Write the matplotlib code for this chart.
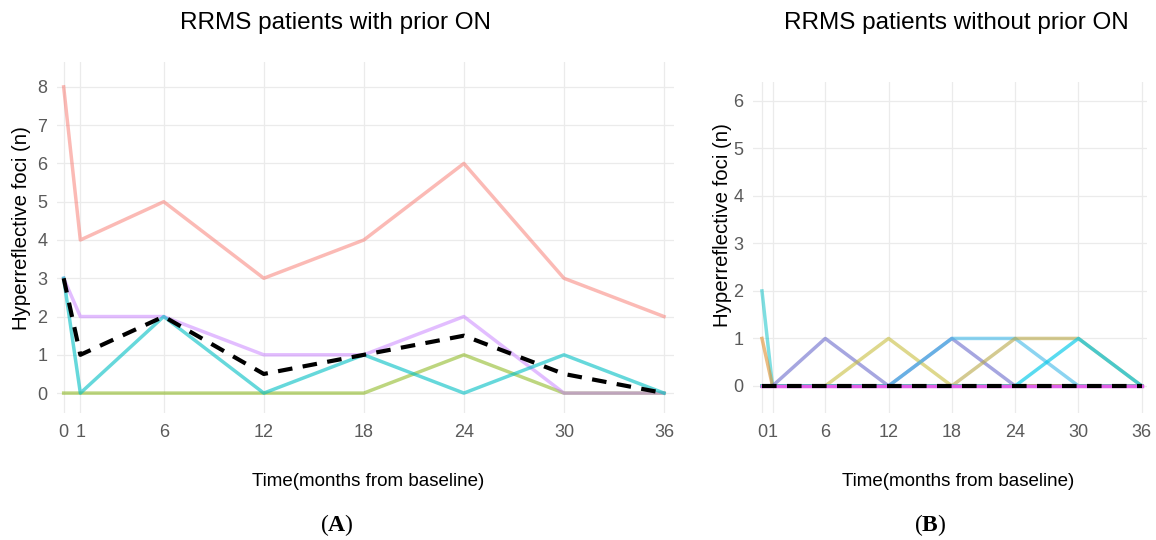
import matplotlib
matplotlib.use('Agg')
import matplotlib.pyplot as plt

plt.rcParams['font.family'] = ['Liberation Sans', 'DejaVu Sans']
plt.rcParams['mathtext.fontset'] = 'custom'
plt.rcParams['mathtext.bf'] = 'Liberation Serif:bold'
plt.rcParams['mathtext.rm'] = 'Liberation Serif'

# time points (months from baseline)
months = [0, 1, 6, 12, 18, 24, 30, 36]

# panel A: RRMS patients with prior ON
a_pink = [8, 4, 5, 3, 4, 6, 3, 2]
a_green = [0, 0, 0, 0, 0, 1, 0, 0]
a_cyan = [3, 0, 2, 0, 1, 0, 1, 0]
a_purple = [3, 2, 2, 1, 1, 2, 0, 0]
a_median = [3, 1, 2, 0.5, 1, 1.5, 0.5, 0]

# panel B: RRMS patients without prior ON
b_p1 = [2, 0, 0, 0, 0, 0, 0, 0]
b_p2 = [1, 0, 0, 0, 0, 0, 0, 0]
b_p3 = [0, 0, 1, 0, 1, 0, 0, 0]
b_p4 = [0, 0, 0, 1, 0, 0, 0, 0]
b_p5 = [0, 0, 0, 0, 1, 1, 0, 0]
b_p6 = [0, 0, 0, 0, 0, 1, 1, 0]
b_p7 = [0, 0, 0, 0, 0, 0, 1, 0]
b_p8 = [0, 0, 0, 0, 0, 0, 0, 0]
b_median = [0, 0, 0, 0, 0, 0, 0, 0]

W, H = 1156, 540
fig = plt.figure(figsize=(W / 100, H / 100), dpi=100)


def px_axes(x0, y0, x1, y1):
    return fig.add_axes([x0 / W, 1 - y1 / H, (x1 - x0) / W, (y1 - y0) / H])


def style_ax(ax, yticks):
    ax.set_xticks(months)
    ax.set_yticks(yticks)
    ax.grid(True, color='#ebebeb', linewidth=0.9)
    ax.set_axisbelow(True)
    for s in ax.spines.values():
        s.set_visible(False)
    ax.tick_params(length=0, labelsize=13, labelcolor='#5a5a5a')
    ax.tick_params(axis='x', pad=8)
    ax.tick_params(axis='y', pad=7)


lw = 2.5

axA = px_axes(57, 62, 674, 413)
axA.plot(months, a_pink, color='#F8766D', alpha=0.5, lw=lw)
axA.plot(months, a_green, color='#7CAE00', alpha=0.5, lw=lw)
axA.plot(months, a_purple, color='#C77CFF', alpha=0.5, lw=lw)
axA.plot(months, a_cyan, color='#00BFC4', alpha=0.6, lw=lw)
axA.plot(months, a_median, color='black', lw=3, ls=(0, (3.5, 2.5)))
axA.set_xlim(-0.4, 36.6)
axA.set_ylim(-0.52, 8.65)
style_ax(axA, range(0, 9))

axB = px_axes(753, 82, 1147, 413)
axB.plot(months, b_p1, color='#00BFC4', alpha=0.5, lw=lw)
axB.plot(months, b_p2, color='#E09030', alpha=0.6, lw=lw)
axB.plot(months, b_p3, color='#6B6BCC', alpha=0.6, lw=lw)
axB.plot(months, b_p4, color='#C8BE40', alpha=0.6, lw=lw)
axB.plot(months, b_p5, color='#40B8E8', alpha=0.6, lw=lw)
axB.plot(months, b_p6, color='#B8A848', alpha=0.6, lw=lw)
axB.plot(months, b_p7, color='#00C8E8', alpha=0.65, lw=lw)
axB.plot(months, b_p8, color='#E060E8', alpha=1.0, lw=lw)
axB.plot(months, b_median, color='black', lw=3, ls=(0, (3.5, 2.5)))
axB.set_xlim(-0.85, 36.5)
axB.set_ylim(-0.57, 6.4)
style_ax(axB, range(0, 7))

# titles, axis labels, panel letters
fig.text(335 / W, 1 - 23 / H, 'RRMS patients with prior ON', ha='center', va='center', fontsize=17.5)
fig.text(956 / W, 1 - 23 / H, 'RRMS patients without prior ON', ha='center', va='center', fontsize=17.5)
fig.text(22 / W, 1 - 228 / H, 'Hyperreflective foci (n)', rotation=90, ha='center', va='center', fontsize=14.7)
fig.text(722 / W, 1 - 225 / H, 'Hyperreflective foci (n)', rotation=90, ha='center', va='center', fontsize=14.7)
fig.text(368 / W, 1 - 482 / H, 'Time(months from baseline)', ha='center', va='center', fontsize=13.5)
fig.text(958 / W, 1 - 482 / H, 'Time(months from baseline)', ha='center', va='center', fontsize=13.5)
fig.text(337 / W, 1 - 525 / H, r'($\mathbf{A}$)', ha='center', va='center', fontsize=17,
         family='Liberation Serif')
fig.text(930 / W, 1 - 525 / H, r'($\mathbf{B}$)', ha='center', va='center', fontsize=17,
         family='Liberation Serif')

fig.savefig('out.png', dpi=100)
